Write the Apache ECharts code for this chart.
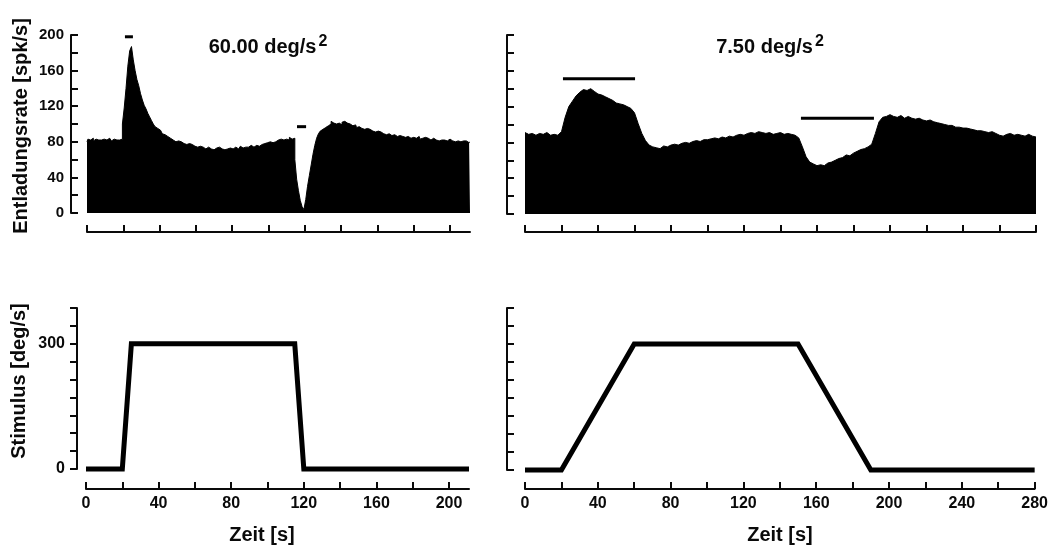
<!DOCTYPE html>
<html>
<head>
<meta charset="utf-8">
<script src="https://cdn.jsdelivr.net/npm/echarts@6/dist/echarts.min.js"></script>
<style>
html,body{margin:0;padding:0;background:#fff;}
#chart{width:1051px;height:552px;}
</style>
</head>
<body>
<div id="chart"></div>
<script>
// ---------- DATA ----------
// Left condition: 60.00 deg/s^2, firing-rate histogram in 1-s bins starting at t = 0 s
const binStepLeft = 1;
const rateLeft = [
  80,83,82,84,81,83,82,80,82,83,81,82,84,82,81,83,82,81,82,83,
  100,118,140,165,182,187,172,160,150,143,134,127,121,117,112,108,104,100,97,95,93,91,89,88,86,85,
  84,82,83,80,81,79,80,78,79,77,78,76,77,75,76,
  74,75,73,74,72,73,74,72,73,71,73,72,74,72,73,71,72,74,73,72,73,74,72,73,75,73,74,75,74,76,75,74,76,77,75,
  77,76,78,79,77,80,79,81,80,82,81,83,82,84,83,82,85,83,84,
  60,38,25,14,7,4,15,30,42,54,66,76,84,89,92,94,96,97,98,100,
  103,101,100,102,101,99,102,103,101,99,100,98,97,99,96,97,95,96,94,95,93,94,92,93,91,92,90,91,89,90,88,89,
  90,87,88,89,86,87,88,86,85,87,86,84,86,85,84,85,86,83,84,85,83,84,82,83,84,82,83,81,82,83,82,81,82,83,81,82,80,81,82,80,81,80,81,79,80
];
// Right condition: 7.50 deg/s^2, firing-rate histogram in 2-s bins starting at t = 0 s
const binStepRight = 2;
const rateRight = [
  91,89,90,88,90,89,91,88,89,88,
  92,108,120,126,132,136,139,138,140,137,134,133,131,129,127,124,123,122,120,118,113,
  101,90,82,77,75,74,73,76,75,77,78,77,79,80,79,81,82,81,83,83,
  84,85,84,86,85,87,86,88,89,88,90,91,90,92,91,90,91,89,90,91,89,90,89,88,
  85,75,64,58,56,54,55,54,57,58,60,62,63,66,65,68,70,72,73,75,78,
  90,103,108,109,111,109,108,110,107,109,107,106,107,105,104,105,103,102,101,100,99,99,97,97,96,
  96,95,94,93,93,92,91,92,90,88,87,89,90,88,89,88,87,89,87,86
];
// Acceleration / deceleration marker bars: [tStart, tEnd, level]
const markBarsLeft = [[20.9, 25.3, 198], [115.7, 120.7, 97]];
const markBarsRight = [[20.8, 60.3, 151], [151.2, 191.2, 107]];
// Stimulus velocity profiles
const stimTimeLeft = [0, 20, 25, 115, 120, 211];
const stimValLeft  = [0, 0, 300, 300, 0, 0];
const stimTimeRight = [0, 20, 60, 150, 190, 280];
const stimValRight  = [0, 0, 300, 300, 0, 0];
// Axis ticks / labels
const xTicksLeft  = [0,20,40,60,80,100,120,140,160,180,200];
const xLabelsLeft = [0,40,80,120,160,200];
const xTicksRight = [0,20,40,60,80,100,120,140,160,180,200,220,240,260,280];
const xLabelsRight = [0,40,80,120,160,200,240,280];
const rateTicks = [0,20,40,60,80,100,120,140,160,180,200];
const rateLabels = [0,40,80,120,160,200];
const stimTickStep = 300 / 7;
const stimTickCount = 10;
const stimLabels = [0, 300];
const titleLeft = '60.00 deg/s';
const titleRight = '7.50 deg/s';
const rateName = 'Entladungsrate [spk/s]';
const stimName = 'Stimulus [deg/s]';
const timeName = 'Zeit [s]';

// ---------- BUILD ----------
const FONT = '"Liberation Sans", Arial, sans-serif';
const INK = '#0a0a0a';
function hist(arr, step){ return arr.map((v,i)=>[i*step, v]); }
function pairs(ts, vs){ return ts.map((t,i)=>[t, vs[i]]); }
const stimTicks = [];
for (let k = 0; k < stimTickCount; k++) stimTicks.push(k * stimTickStep);

function xAxisCfg(gi, max, ticks, labels, offset, showLabels){
  return {
    type:'value', gridIndex:gi, min:0, max:max, offset:offset,
    axisLine:{show:true, onZero:false, lineStyle:{color:INK, width:2}},
    axisTick:{show:true, inside:true, length:7, lineStyle:{color:INK, width:2}, customValues:ticks},
    axisLabel:{show:showLabels, customValues:labels, margin:7, color:INK, fontFamily:FONT, fontWeight:'bold', fontSize:16},
    splitLine:{show:false}
  };
}
function yAxisCfg(gi, max, ticks, labels, offset, inside, showLabels, fs, margin){
  return {
    type:'value', gridIndex:gi, min:0, max:max, offset:offset,
    axisLine:{show:true, onZero:false, lineStyle:{color:INK, width:2}},
    axisTick:{show:true, inside:inside, length:7, lineStyle:{color:INK, width:2}, customValues:ticks},
    axisLabel:{show:showLabels, customValues:labels, margin:margin, color:INK, fontFamily:FONT, fontWeight:'bold', fontSize:fs},
    splitLine:{show:false}
  };
}
function histSeries(xi, data, step){
  return {type:'line', xAxisIndex:xi, yAxisIndex:xi, data:data, step:step, symbol:'none',
    lineStyle:{color:'#000', width:1}, areaStyle:{color:'#000', opacity:1}, silent:true};
}
function barSeries(xi, b){
  return {type:'line', xAxisIndex:xi, yAxisIndex:xi, data:[[b[0],b[2]],[b[1],b[2]]], symbol:'none',
    lineStyle:{color:'#000', width:3, cap:'butt'}, silent:true, clip:false};
}
function stimSeries(xi, data){
  return {type:'line', xAxisIndex:xi, yAxisIndex:xi, data:data, symbol:'none', clip:false,
    lineStyle:{color:'#000', width:5, join:'miter', cap:'butt'}, silent:true};
}

const series = [
  histSeries(0, hist(rateLeft, binStepLeft), 'middle'),
  ...markBarsLeft.map(b=>barSeries(0,b)),
  stimSeries(1, pairs(stimTimeLeft, stimValLeft)),
  histSeries(2, hist(rateRight, binStepRight), false),
  ...markBarsRight.map(b=>barSeries(2,b)),
  stimSeries(3, pairs(stimTimeRight, stimValRight))
];

function txt(x, y, text, size, rot){
  return {type:'text', x:x, y:y, rotation:rot||0, silent:true,
    style:{text:text, fill:INK, font:'bold '+size+'px '+FONT, align:'center', verticalAlign:'middle'}};
}
function titleTxt(x, y, t){
  return {type:'text', x:x, y:y, silent:true,
    style:{text:'{a|'+t+'}{b|2}', align:'center', verticalAlign:'middle', fill:INK,
      rich:{a:{fontFamily:FONT, fontWeight:'bold', fontSize:20, lineHeight:26, fill:INK},
            b:{fontFamily:FONT, fontWeight:'bold', fontSize:16, lineHeight:16, verticalAlign:'top', fill:INK, padding:[0,0,0,2]}}}};
}

const option = {
  animation:false,
  backgroundColor:'#fff',
  grid:[
    {left:87, top:35, width:383, height:178},
    {left:86, top:308, width:383, height:161},
    {left:525, top:35, width:511, height:179},
    {left:525, top:308, width:511, height:162}
  ],
  xAxis:[
    xAxisCfg(0, 211, xTicksLeft, xLabelsLeft, 19, false),
    xAxisCfg(1, 211, xTicksLeft, xLabelsLeft, 20, true),
    xAxisCfg(2, 280, xTicksRight, xLabelsRight, 18, false),
    xAxisCfg(3, 280, xTicksRight, xLabelsRight, 19, true)
  ],
  yAxis:[
    yAxisCfg(0, 200, rateTicks, rateLabels, 16, true, true, 15, 7),
    yAxisCfg(1, stimTickStep*(stimTickCount-1), stimTicks, stimLabels, 9, false, true, 16, 12),
    yAxisCfg(2, 200, rateTicks, rateLabels, 18, true, false, 15, 7),
    yAxisCfg(3, stimTickStep*(stimTickCount-1), stimTicks, stimLabels, 18, true, false, 16, 12)
  ],
  series:series,
  graphic:[
    titleTxt(268, 47, titleLeft),
    titleTxt(770, 47, titleRight),
    txt(21, 126, rateName, 20, Math.PI/2),
    txt(19, 381, stimName, 20, Math.PI/2),
    txt(262, 535, timeName, 20),
    txt(780, 535, timeName, 20)
  ]
};
const chart = echarts.init(document.getElementById('chart'), null, {renderer:'canvas'});
chart.setOption(option);
</script>
</body>
</html>
